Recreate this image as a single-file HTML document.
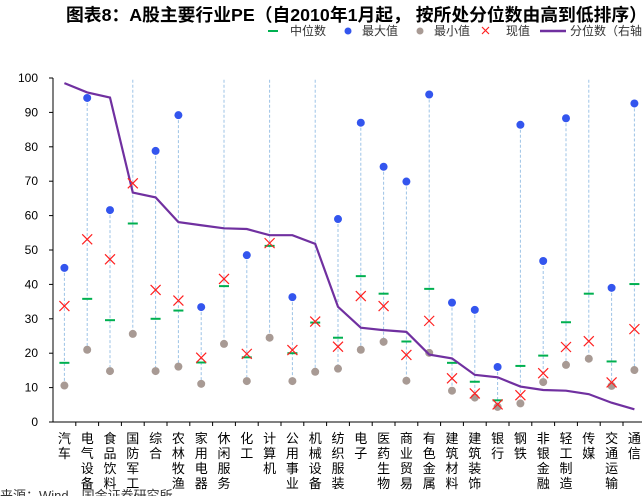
<!DOCTYPE html>
<html><head><meta charset="utf-8"><style>
body{margin:0;background:#fff;width:642px;height:496px;overflow:hidden;font-family:"Liberation Sans","Noto Sans CJK SC",sans-serif;}
svg text{font-family:"Liberation Sans","Noto Sans CJK SC",sans-serif;}
</style></head><body>
<svg id="chart" width="642" height="496" xmlns="http://www.w3.org/2000/svg">
<text x="66" y="21" font-size="17.8" font-weight="bold" fill="#000">图表8：A股主要行业PE（自2010年1月起， 按所处分位数由高到低排序）</text>
<g font-size="12" fill="#333">
<g><line x1="268" y1="31" x2="278" y2="31" stroke="#00b050" stroke-width="2"/><text x="290" y="35">中位数</text></g>
<g><circle cx="348" cy="31" r="3.5" fill="#3355ee"/><text x="362" y="35">最大值</text></g>
<g><circle cx="420" cy="31" r="3.5" fill="#a89a94"/><text x="434" y="35">最小值</text></g>
<g><path d="M482 27l7 7M489 27l-7 7" stroke="#ff2020" stroke-width="1.2"/><text x="506" y="35">现值</text></g>
<g><line x1="540" y1="31" x2="566" y2="31" stroke="#7030a0" stroke-width="2.5"/><text x="570" y="35">分位数（右轴）</text></g>
</g>
<defs><clipPath id="plot"><rect x="53" y="78" width="600" height="346"/></clipPath></defs>
<g id="axes"></g>
<g id="marks" clip-path="url(#plot)"></g>
<g id="labels"></g>
<text x="0" y="500" font-size="13" fill="#333">来源：Wind，国金证券研究所</text>
</svg>
<script>
const categories=["汽车","电气设备","食品饮料","国防军工","综合","农林牧渔","家用电器","休闲服务","化工","计算机","公用事业","机械设备","纺织服装","电子","医药生物","商业贸易","有色金属","建筑材料","建筑装饰","银行","钢铁","非银金融","轻工制造","传媒","交通运输","通信"];
const maxVals=[44.8,94.2,61.6,130,78.8,89.2,33.4,130,48.5,130,36.3,130,59.0,87.0,74.2,69.9,95.2,34.7,32.6,16.0,86.4,46.8,88.3,130,39.0,92.6];
const minVals=[10.6,21.0,14.8,25.6,14.8,16.1,11.1,22.7,11.9,24.5,11.9,14.6,15.5,21.0,23.3,12.0,20.1,9.1,7.1,4.4,5.4,11.6,16.6,18.4,10.5,15.1];
const medianVals=[17.2,35.8,29.6,57.7,30.0,32.4,17.3,39.5,18.8,51.2,20.0,28.9,24.5,42.4,37.3,23.4,38.7,17.2,11.7,6.3,16.3,19.3,29.0,37.3,17.6,40.1];
const currentVals=[33.7,53.1,47.3,69.4,38.4,35.3,18.7,41.6,19.8,52.0,20.9,29.2,21.9,36.6,33.7,19.5,29.4,12.7,8.3,5.1,7.8,14.2,21.8,23.5,11.5,27.0];
const percentileVals=[98.5,95.8,94.3,66.7,65.3,58.1,57.2,56.3,56.1,54.3,54.3,51.8,33.5,27.4,26.7,26.2,19.6,18.5,13.7,13.0,10.3,9.3,9.1,8.1,5.6,3.7];
const yTicks=[0,10,20,30,40,50,60,70,80,90,100];

const NS="http://www.w3.org/2000/svg";
const X0=53,BW=22.8,Y0=422,Y100=78;
const xs=i=>X0+(i+0.5)*BW;
const ys=v=>Y0-(v/100)*(Y0-Y100);
function mk(parent,tag,attrs){const e=document.createElementNS(NS,tag);for(const k in attrs)e.setAttribute(k,attrs[k]);parent.appendChild(e);return e;}
const axes=document.getElementById('axes'),marks=document.getElementById('marks'),labels=document.getElementById('labels');

let ax=mk(axes,'line',{x1:X0,y1:Y100,x2:X0,y2:Y0,stroke:'#000','stroke-width':1});


let bx=mk(axes,'line',{x1:X0,y1:Y0,x2:660,y2:Y0,stroke:'#000','stroke-width':1});


yTicks.forEach(t=>{
  const y=ys(t);
  mk(axes,'line',{x1:X0-4,y1:y,x2:X0,y2:y,stroke:'#000'});
  const tx=mk(axes,'text',{x:38,y:y+4,'font-size':12,'text-anchor':'end',fill:'#000'});
  tx.textContent=t;
  
  
});
categories.forEach((c,i)=>{
  const xt=X0+(i+1)*BW;
  mk(axes,'line',{x1:xt,y1:Y0,x2:xt,y2:Y0+4,stroke:'#000'});
  const x=xs(i);
  const g=mk(labels,'text',{x:x,y:442,'font-size':13,'text-anchor':'middle',fill:'#000'});
  
  
  [...c].forEach((ch,k)=>{const s=mk(g,'tspan',{x:x,y:443+k*15});s.textContent=ch;});
});
categories.forEach((c,i)=>{
  const x=xs(i);
  const r=mk(marks,'line',{x1:x,y1:ys(maxVals[i]),x2:x,y2:ys(minVals[i]),stroke:'#9dc3e6','stroke-width':1,'stroke-dasharray':'3,2'});
  
  
});
categories.forEach((c,i)=>{
  const x=xs(i);
  const mn=mk(marks,'circle',{cx:x,cy:ys(minVals[i]),r:4,fill:'#a89a94'});
  
  
  const mx=mk(marks,'circle',{cx:x,cy:ys(maxVals[i]),r:4,fill:'#3355ee'});
  
  
  const md=mk(marks,'line',{x1:x-5,y1:ys(medianVals[i]),x2:x+5,y2:ys(medianVals[i]),stroke:'#00b050','stroke-width':2});
  
  
});
let d='';
percentileVals.forEach((v,i)=>{d+=(i?'L':'M')+xs(i)+' '+ys(v);});
const pl=mk(marks,'path',{d:d,fill:'none',stroke:'#7030a0','stroke-width':2.2});


categories.forEach((c,i)=>{
  const x=xs(i),y=ys(currentVals[i]);
  const cu=mk(marks,'path',{d:`M${x-5} ${y-5}L${x+5} ${y+5}M${x+5} ${y-5}L${x-5} ${y+5}`,stroke:'#ff2020','stroke-width':1.2,fill:'none'});
  
  
});
</script>
</body></html>
